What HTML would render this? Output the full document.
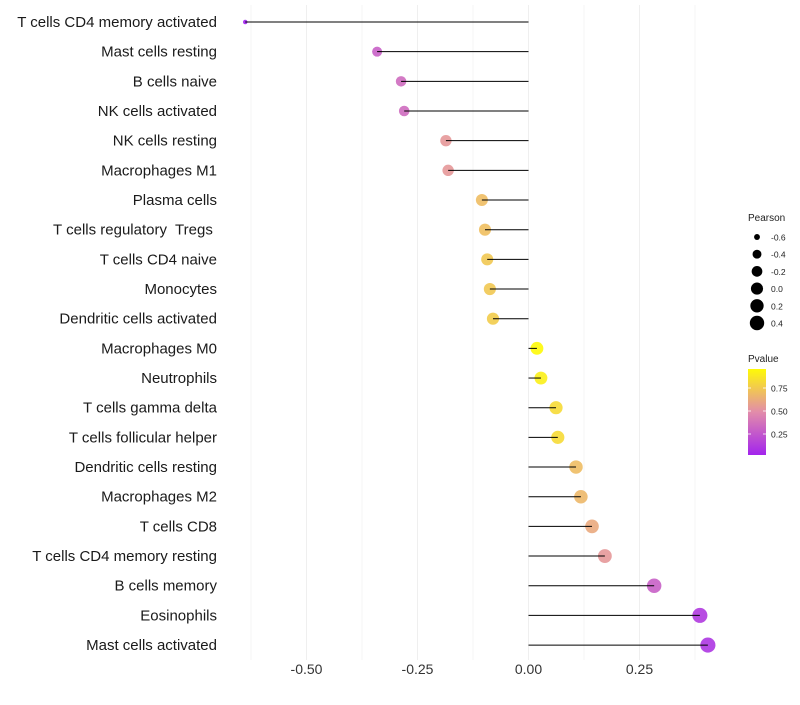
<!DOCTYPE html>
<html><head><meta charset="utf-8"><style>
body{margin:0;background:#fff;font-family:"Liberation Sans",sans-serif}
text{white-space:pre}
</style></head><body>
<svg id="chart" width="800" height="700" xmlns="http://www.w3.org/2000/svg" font-family="Liberation Sans, sans-serif"></svg>
<script>
const categories=["T cells CD4 memory activated","Mast cells resting","B cells naive","NK cells activated","NK cells resting","Macrophages M1","Plasma cells","T cells regulatory  Tregs ","T cells CD4 naive","Monocytes","Dendritic cells activated","Macrophages M0","Neutrophils","T cells gamma delta","T cells follicular helper","Dendritic cells resting","Macrophages M2","T cells CD8","T cells CD4 memory resting","B cells memory","Eosinophils","Mast cells activated"];
const pearson=[-0.638,-0.341,-0.287,-0.280,-0.186,-0.181,-0.105,-0.098,-0.093,-0.087,-0.080,0.019,0.028,0.062,0.066,0.107,0.118,0.143,0.172,0.283,0.386,0.404];
const pvalue=[0.01,0.30,0.35,0.35,0.55,0.55,0.71,0.72,0.76,0.76,0.78,0.98,0.93,0.84,0.84,0.71,0.69,0.63,0.55,0.30,0.12,0.10];
const xTicks=[-0.5,-0.25,0,0.25];
const xTickLabels=["-0.50","-0.25","0.00","0.25"];
const legendVals=[-0.6,-0.4,-0.2,0.0,0.2,0.4];
const legendLabels=["-0.6","-0.4","-0.2","0.0","0.2","0.4"];
const pTicks=[0.25,0.5,0.75];
const pTickLabels=["0.25","0.50","0.75"];

const NS="http://www.w3.org/2000/svg";
const svg=document.getElementById('chart');
function mk(t,a,p){const e=document.createElementNS(NS,t);for(const k in a)e.setAttribute(k,a[k]);(p||svg).appendChild(e);return e;}
const x=v=>528.5+v*444;
const y=i=>22+i*29.67;
const rad=v=>2+5.6*Math.sqrt(Math.max(0,(v+0.64)/1.05));
function lerp(a,b,t){return Math.round(a+(b-a)*t);}
function col(p){const s=[[0,[160,32,240]],[0.5,[226,140,170]],[1,[255,255,0]]];
 let i=p<0.5?0:1;const t=(p-s[i][0])/0.5;const a=s[i][1],b=s[i+1][1];
 return `rgb(${lerp(a[0],b[0],t)},${lerp(a[1],b[1],t)},${lerp(a[2],b[2],t)})`;}

for(let v=-0.625;v<=0.4;v+=0.125){
 const major=Math.abs((v*4)-Math.round(v*4))<1e-6;
 const g=mk('line',{x1:x(v),x2:x(v),y1:5,y2:660,stroke:major?'#efefef':'#f6f6f6','stroke-width':1});
 
 
}
xTicks.forEach((t,i)=>{
 const e=mk('text',{x:x(t),y:674,'text-anchor':'middle','font-size':14,fill:'#333'});
 e.textContent=xTickLabels[i];
 
 
});
categories.forEach((c,i)=>{
 const l=mk('text',{x:217,y:y(i)+5,'text-anchor':'end','font-size':15,fill:'#1a1a1a'});
 l.textContent=c;
 
 
 const d=mk('circle',{cx:x(pearson[i]),cy:y(i),r:rad(pearson[i]),fill:col(pvalue[i]),'fill-opacity':0.9});
 
 
 const s=mk('line',{x1:x(pearson[i]),x2:x(0),y1:y(i),y2:y(i),stroke:'#000','stroke-width':1});
 
 
});
const lt=mk('text',{x:748,y:221,'font-size':10,fill:'#222'});lt.textContent='Pearson';


legendVals.forEach((v,i)=>{
 const cy=237+i*17.2;
 const c=mk('circle',{cx:757,cy:cy,r:rad(v)*0.95,fill:'#000'});
 
 
 const t=mk('text',{x:771,y:cy+3.5,'font-size':8.5,fill:'#222'});t.textContent=legendLabels[i];
 
 
});
const pt=mk('text',{x:748,y:362,'font-size':10,fill:'#222'});pt.textContent='Pvalue';


const defs=mk('defs',{});
const gr=mk('linearGradient',{id:'pg',x1:0,y1:1,x2:0,y2:0},defs);
mk('stop',{offset:'0','stop-color':col(0.02)},gr);
mk('stop',{offset:'0.5','stop-color':col(0.5)},gr);
mk('stop',{offset:'1','stop-color':col(0.98)},gr);
const pb=mk('rect',{x:748,y:369,width:18,height:86,fill:'url(#pg)'});


const py=p=>457-p*92;
pTicks.forEach((p,i)=>{
 mk('line',{x1:748,x2:751,y1:py(p),y2:py(p),stroke:'#fff','stroke-width':0.8});
 mk('line',{x1:763,x2:766,y1:py(p),y2:py(p),stroke:'#fff','stroke-width':0.8});
 const t=mk('text',{x:771,y:py(p)+3.5,'font-size':8.5,fill:'#222'});t.textContent=pTickLabels[i];
 
 
});
</script>
</body></html>
